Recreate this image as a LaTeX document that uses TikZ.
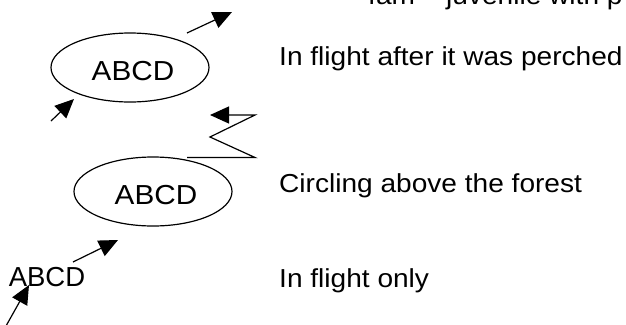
\documentclass[tikz,border=0pt]{standalone}
\usepackage{fontspec}
\setmainfont{Liberation Sans}
\usetikzlibrary{arrows.meta,shapes.geometric}
\begin{document}
\begin{tikzpicture}[x=1pt,y=-1pt,
  ell/.style={draw, ellipse, line width=1.2pt, minimum width=158pt, minimum height=69pt, inner sep=0pt},
  lab/.style={inner sep=0pt, anchor=base west, font=\fontsize{26}{30}\selectfont},
  abcd/.style={inner sep=0pt, font=\fontsize{27.5}{32}\selectfont},
  arr/.style={line width=1.2pt, -{Triangle[length=19pt,width=17pt]}}]
\useasboundingbox (0,0) rectangle (626,324);
% ellipses and names
\node[ell] (e1) at (130,67.5) {};
\node[abcd] (t1) at (133,71.5) {\scalebox{1.08}[1]{ABCD}};
\node[ell] (e2) at (153,191.5) {};
\node[abcd] (t2) at (156,195.5) {\scalebox{1.08}[1]{ABCD}};
\node[abcd] (t3) at (47,277.5) {\scalebox{1.0}[1]{ABCD}};
% labels
\node[lab] (l0) at (368,5) {\scalebox{1.08}[1]{fam – juvenile with p}};
\node[lab] (l1) at (279,65) {\scalebox{1.08}[1]{In flight after it was perched}};
\node[lab] (l2) at (279,192) {\scalebox{1.08}[1]{Circling above the forest}};
\node[lab] (l3) at (279,287) {\scalebox{1.08}[1]{In flight only}};
% arrows
\coordinate (a1s) at (187,33);  \coordinate (a1e) at (232,12);
\coordinate (b1s) at (51,121);  \coordinate (b1e) at (74,99);
\coordinate (z0) at (187,157.5); \coordinate (z1) at (255,157.5);
\coordinate (z2) at (210,137);  \coordinate (z3) at (255,115);
\coordinate (z4) at (210,115);
\coordinate (c1s) at (73,262);  \coordinate (c1e) at (118,240);
\coordinate (d1s) at (6,326);   \coordinate (d1e) at (29,285);
\draw[arr] (a1s) -- (a1e);
\draw[arr] (b1s) -- (b1e);
\draw[arr] (z0) -- (z1) -- (z2) -- (z3) -- (z4);
\draw[arr] (c1s) -- (c1e);
\draw[arr] (d1s) -- (d1e);
\end{tikzpicture}
\end{document}
